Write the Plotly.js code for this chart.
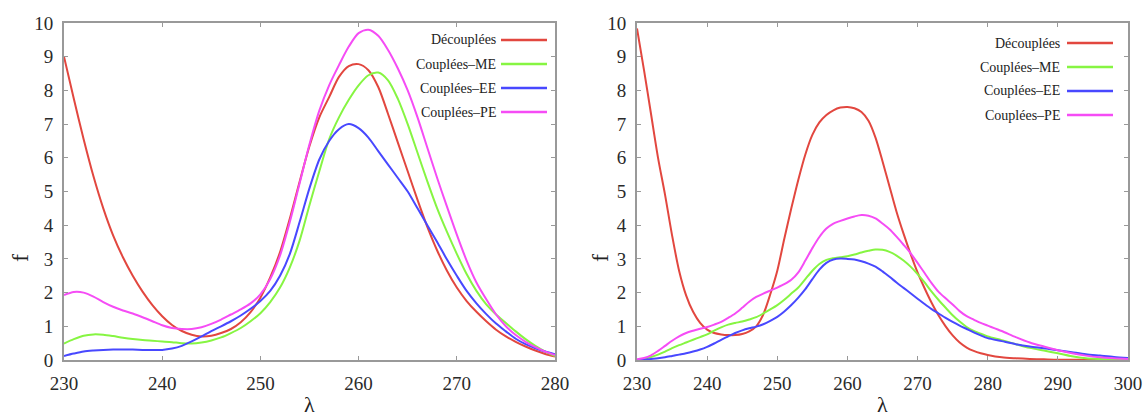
<!DOCTYPE html>
<html>
<head>
<meta charset="utf-8">
<script src="https://cdn.plot.ly/plotly-3.0.1.min.js"></script>
<style>html,body{margin:0;padding:0;background:#fff;}#chart{width:1145px;height:419px;}</style>
</head>
<body>
<div id="chart"></div>
<script>
// ---------- DATA ----------
const seriesNames = ["Découplées", "Couplées–ME", "Couplées–EE", "Couplées–PE"];
const xTickVals1 = [230, 240, 250, 260, 270, 280];
const xTickVals2 = [230, 240, 250, 260, 270, 280, 290, 300];
const yTickVals = [0, 1, 2, 3, 4, 5, 6, 7, 8, 9, 10];

// Left panel: wavelength samples
const leftLambda = [230, 231, 232, 233, 234, 235, 236, 237, 238, 239, 240, 241, 242, 243, 244, 245, 246, 247, 248, 249, 250, 251, 252, 253, 254, 255, 256, 257, 258, 259, 260, 261, 262, 263, 264, 265, 266, 267, 268, 269, 270, 271, 272, 273, 274, 275, 276, 277, 278, 279, 280];
const leftDec = [9.0, 7.75, 6.55, 5.45, 4.5, 3.7, 3.05, 2.5, 2.03, 1.63, 1.3, 1.04, 0.86, 0.75, 0.7, 0.72, 0.8, 0.92, 1.12, 1.42, 1.85, 2.45, 3.2, 4.2, 5.3, 6.35, 7.2, 7.8, 8.4, 8.72, 8.78, 8.6, 8.1, 7.3, 6.45, 5.6, 4.75, 3.95, 3.25, 2.65, 2.15, 1.75, 1.43, 1.15, 0.9, 0.7, 0.54, 0.4, 0.28, 0.18, 0.1];
const leftME = [0.49, 0.62, 0.72, 0.76, 0.75, 0.71, 0.66, 0.62, 0.59, 0.57, 0.55, 0.53, 0.5, 0.49, 0.52, 0.58, 0.67, 0.8, 0.95, 1.15, 1.39, 1.72, 2.15, 2.75, 3.55, 4.6, 5.6, 6.55, 7.2, 7.72, 8.15, 8.45, 8.53, 8.3, 7.75, 7.0, 6.15, 5.3, 4.5, 3.8, 3.15, 2.55, 2.05, 1.65, 1.35, 1.1, 0.85, 0.62, 0.42, 0.25, 0.12];
const leftEE = [0.12, 0.19, 0.25, 0.28, 0.3, 0.31, 0.31, 0.31, 0.3, 0.3, 0.3, 0.34, 0.42, 0.55, 0.7, 0.86, 1.0, 1.15, 1.32, 1.52, 1.75, 2.05, 2.5, 3.15, 4.1, 5.1, 5.95, 6.5, 6.85, 7.0, 6.88, 6.6, 6.2, 5.8, 5.4, 5.0, 4.5, 4.0, 3.5, 2.98, 2.5, 2.05, 1.68, 1.36, 1.08, 0.85, 0.63, 0.47, 0.35, 0.25, 0.17];
const leftPE = [1.93, 2.02, 2.0, 1.88, 1.72, 1.58, 1.47, 1.38, 1.27, 1.15, 1.03, 0.95, 0.92, 0.92, 0.97, 1.07, 1.2, 1.35, 1.5, 1.68, 1.95, 2.4, 3.1, 4.1, 5.25, 6.4, 7.4, 8.15, 8.75, 9.3, 9.7, 9.8, 9.62, 9.2, 8.65, 8.0, 7.2, 6.3, 5.4, 4.55, 3.72, 2.95, 2.3, 1.8, 1.35, 1.0, 0.74, 0.54, 0.38, 0.25, 0.15];

// Right panel: wavelength samples
const rightLambda = [230, 231, 232, 233, 234, 235, 236, 237, 238, 239, 240, 241, 242, 243, 244, 245, 246, 247, 248, 249, 250, 251, 252, 253, 254, 255, 256, 257, 258, 259, 260, 261, 262, 263, 264, 265, 266, 267, 268, 269, 270, 271, 272, 273, 274, 275, 276, 277, 278, 279, 280, 282, 284, 286, 288, 290, 292, 294, 296, 298, 300];
const rightDec = [9.84, 8.6, 7.3, 6.0, 4.9, 3.7, 2.65, 1.92, 1.43, 1.1, 0.9, 0.8, 0.76, 0.74, 0.74, 0.77, 0.85, 1.0, 1.35, 1.95, 2.65, 3.6, 4.5, 5.35, 6.1, 6.68, 7.05, 7.27, 7.41, 7.49, 7.51, 7.47, 7.36, 7.1, 6.6, 5.9, 5.15, 4.4, 3.75, 3.15, 2.6, 2.13, 1.7, 1.32, 1.0, 0.73, 0.52, 0.37, 0.27, 0.2, 0.15, 0.08, 0.05, 0.03, 0.02, 0.01, 0.01, 0.0, 0.0, 0.0, 0.0];
const rightME = [0.0, 0.04, 0.09, 0.16, 0.25, 0.35, 0.44, 0.52, 0.6, 0.68, 0.76, 0.87, 0.97, 1.05, 1.1, 1.14, 1.2, 1.27, 1.38, 1.5, 1.63, 1.79, 1.97, 2.15, 2.4, 2.65, 2.85, 2.97, 3.02, 3.05, 3.08, 3.13, 3.19, 3.24, 3.28, 3.27, 3.21, 3.1, 2.95, 2.77, 2.55, 2.3, 2.03, 1.78, 1.55, 1.33, 1.14, 0.98, 0.86, 0.78, 0.7, 0.59, 0.47, 0.36, 0.28, 0.2, 0.11, 0.05, 0.03, 0.02, 0.02];
const rightEE = [0.0, 0.01, 0.03, 0.05, 0.08, 0.12, 0.16, 0.2, 0.25, 0.31, 0.39, 0.49, 0.6, 0.7, 0.8, 0.88, 0.94, 0.99, 1.06, 1.16, 1.28, 1.44, 1.63, 1.85, 2.1, 2.4, 2.68, 2.88, 2.98, 3.01, 3.0, 2.98, 2.93, 2.86, 2.77, 2.63, 2.47, 2.3, 2.14, 1.98, 1.82, 1.66, 1.51, 1.38, 1.25, 1.13, 1.02, 0.92, 0.82, 0.73, 0.65, 0.56, 0.47, 0.4, 0.35, 0.29, 0.23, 0.17, 0.13, 0.09, 0.06];
const rightPE = [0.02, 0.06, 0.14, 0.27, 0.42, 0.57, 0.7, 0.8, 0.87, 0.93, 0.98, 1.05, 1.13, 1.25, 1.38, 1.55, 1.73, 1.87, 1.97, 2.06, 2.15, 2.25, 2.38, 2.6, 2.95, 3.32, 3.65, 3.9, 4.05, 4.13, 4.2, 4.26, 4.3, 4.28, 4.2, 4.05, 3.88, 3.66, 3.42, 3.17, 2.88, 2.58, 2.28, 2.02, 1.83, 1.65, 1.45, 1.3, 1.2, 1.1, 1.02, 0.86, 0.68, 0.52, 0.4, 0.29, 0.2, 0.13, 0.08, 0.05, 0.03];

// ---------- STYLE ----------
const colors = ["#e2473f", "#86f542", "#4848ff", "#f54cf5"];
const SERIF = 'Liberation Serif, serif';
const W = 1145, H = 419;
const px = v => v / W;
const py = v => 1 - v / H;

const leftData = [leftDec, leftME, leftEE, leftPE];
const rightData = [rightDec, rightME, rightEE, rightPE];

const traces = [];
leftData.forEach((ys, i) => traces.push({
  x: leftLambda, y: ys, type: 'scatter', mode: 'lines', name: seriesNames[i],
  line: {color: colors[i], width: 2, shape: 'spline', smoothing: 0.8},
  xaxis: 'x', yaxis: 'y', showlegend: false, hoverinfo: 'skip'
}));
rightData.forEach((ys, i) => traces.push({
  x: rightLambda, y: ys, type: 'scatter', mode: 'lines', name: seriesNames[i],
  line: {color: colors[i], width: 2, shape: 'spline', smoothing: 0.8},
  xaxis: 'x2', yaxis: 'y2', showlegend: false, hoverinfo: 'skip'
}));

const tickFont = {family: SERIF, size: 19, color: '#2a2a2a'};
function xAx(domain, range, vals, anchor) {
  return {domain: domain, range: range, tickvals: vals, ticktext: vals.map(String), anchor: anchor,
    showline: true, mirror: 'ticks', linecolor: '#999', linewidth: 2,
    ticks: 'inside', ticklen: 4, tickcolor: '#999', tickwidth: 1,
    showgrid: false, zeroline: false, tickfont: tickFont, ticklabelstandoff: 5, fixedrange: true};
}
function yAx(range, anchor) {
  return {domain: [py(360), py(23)], range: range, tickvals: yTickVals, ticktext: yTickVals.map(String), anchor: anchor,
    showline: true, mirror: 'ticks', linecolor: '#999', linewidth: 2,
    ticks: 'inside', ticklen: 4, tickcolor: '#999', tickwidth: 1,
    showgrid: false, zeroline: false, tickfont: tickFont, ticklabelstandoff: 5, fixedrange: true};
}

const legFont = {family: SERIF, size: 14, color: '#222'};
const annotations = [];
const shapes = [];
function addLegend(textRight, lineX0, lineX1, rows) {
  seriesNames.forEach((n, i) => {
    annotations.push({xref: 'paper', yref: 'paper', x: px(textRight), y: py(rows[i]), xanchor: 'right', yanchor: 'middle',
      text: n, showarrow: false, font: legFont});
    shapes.push({type: 'line', xref: 'paper', yref: 'paper', x0: px(lineX0), x1: px(lineX1), y0: py(rows[i]), y1: py(rows[i]),
      line: {color: colors[i], width: 2.5}});
  });
}
addLegend(498, 501, 547, [40, 64, 88, 112]);
addLegend(1062, 1067, 1113, [43, 67, 91, 115]);

const titleFont = {family: SERIF, size: 24, color: '#222'};
[[20, 258], [600, 258]].forEach(p => annotations.push({xref: 'paper', yref: 'paper', x: px(p[0]), y: py(p[1]),
  xanchor: 'center', yanchor: 'middle', text: 'f', textangle: -90, showarrow: false, font: titleFont}));
[309, 882].forEach(xp => annotations.push({xref: 'paper', yref: 'paper', x: px(xp), y: 0,
  xanchor: 'center', yanchor: 'bottom', text: 'λ', showarrow: false, font: {family: SERIF, size: 22, color: '#222'}}));

const layout = {
  width: W, height: H,
  margin: {l: 0, r: 0, t: 0, b: 0},
  paper_bgcolor: '#fff', plot_bgcolor: '#fff',
  showlegend: false,
  xaxis: xAx([px(64), px(555)], [230, 280], xTickVals1, 'y'),
  yaxis: yAx([0, 10], 'x'),
  xaxis2: xAx([px(637), px(1128)], [230, 300], xTickVals2, 'y2'),
  yaxis2: yAx([0, 10], 'x2'),
  annotations: annotations,
  shapes: shapes
};

Plotly.newPlot('chart', traces, layout, {displayModeBar: false, staticPlot: true});
</script>
</body>
</html>
